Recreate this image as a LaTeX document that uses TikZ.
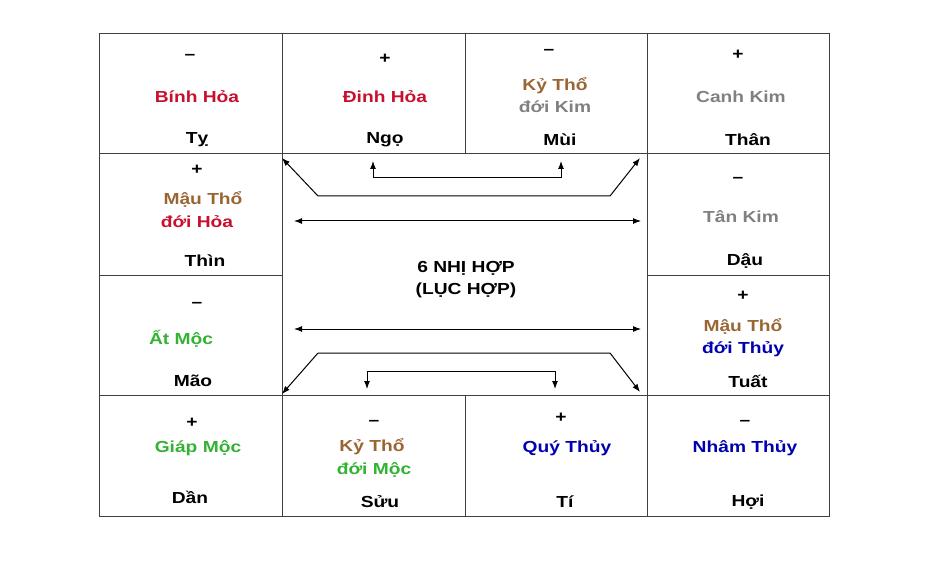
\documentclass[tikz,border=0pt]{standalone}
\usepackage{fontspec}
\setmainfont{Liberation Sans}
\usetikzlibrary{arrows.meta}
\definecolor{hoa}{HTML}{C8102E}
\definecolor{tho}{HTML}{996633}
\definecolor{kim}{HTML}{808080}
\definecolor{moc}{HTML}{33B233}
\definecolor{thuy}{HTML}{0000B0}
\begin{document}
\begin{tikzpicture}[x=1pt,y=-1pt]
  \tikzset{lbl/.style={font=\fontsize{16}{19}\selectfont\bfseries, inner sep=0pt, xscale=1.2, transform shape},
    grid/.style={draw=black!75, line width=0.9pt},
    link/.style={line width=1pt, -{Latex[length=8pt,width=6pt]}},
    both/.style={line width=1pt, {Latex[length=8pt,width=6pt]}-{Latex[length=8pt,width=6pt]}}}
  \useasboundingbox (0,0) rectangle (926,572);

  % grid
  \draw[grid] (99,33) rectangle (829,516);
  \draw[grid] (99,153) -- (829,153) (99,395) -- (829,395)
    (99,275) -- (282,275) (647,275) -- (829,275)
    (282,33) -- (282,516) (647,33) -- (647,516)
    (465,33) -- (465,153) (465,395) -- (465,516);

  % top row
  \node[lbl] (s1) at (190,57) {--};
  \node[lbl, hoa] (n1) at (197,97) {Bính Hỏa};
  \node[lbl] (b1) at (197,140) {Tỵ};
  \node[lbl] (s2) at (385,59) {+};
  \node[lbl, hoa] (n2) at (385,97) {Đinh Hỏa};
  \node[lbl] (b2) at (385,140) {Ngọ};
  \node[lbl] (s3) at (549,52) {--};
  \node[lbl, tho] (n3) at (555,86) {Kỷ Thổ};
  \node[lbl, kim] (m3) at (555,107) {đới Kim};
  \node[lbl] (b3) at (560,140) {Mùi};
  \node[lbl] (s4) at (738,55) {+};
  \node[lbl, kim] (n4) at (741,97) {Canh Kim};
  \node[lbl] (b4) at (748,140) {Thân};

  % side rows
  \node[lbl] (s5) at (197,170) {+};
  \node[lbl, tho] (n5) at (203,199) {Mậu Thổ};
  \node[lbl, hoa] (m5) at (197,222) {đới Hỏa};
  \node[lbl] (b5) at (205,261) {Thìn};
  \node[lbl] (s6) at (738,180) {--};
  \node[lbl, kim] (n6) at (741,217) {Tân Kim};
  \node[lbl] (b6) at (745,261) {Dậu};
  \node[lbl] (s7) at (197,305) {--};
  \node[lbl, moc] (n7) at (181,339) {Ất Mộc};
  \node[lbl] (b7) at (193,381) {Mão};
  \node[lbl] (s8) at (743,296) {+};
  \node[lbl, tho] (n8) at (743,326) {Mậu Thổ};
  \node[lbl, thuy] (m8) at (743,349) {đới Thủy};
  \node[lbl] (b8) at (748,381) {Tuất};

  % bottom row
  \node[lbl] (s9) at (192,423) {+};
  \node[lbl, moc] (n9) at (198,448) {Giáp Mộc};
  \node[lbl] (b9) at (190,497) {Dần};
  \node[lbl] (s10) at (374,423) {--};
  \node[lbl, tho] (n10) at (372,447) {Kỷ Thổ};
  \node[lbl, moc] (m10) at (374,470) {đới Mộc};
  \node[lbl] (b10) at (380,502) {Sửu};
  \node[lbl] (s11) at (561,418) {+};
  \node[lbl, thuy] (n11) at (567,448) {Quý Thủy};
  \node[lbl] (b11) at (565,502) {Tí};
  \node[lbl] (s12) at (745,423) {--};
  \node[lbl, thuy] (n12) at (745,448) {Nhâm Thủy};
  \node[lbl] (b12) at (748,502) {Hợi};

  % centre
  \node[lbl] (t1) at (466,268) {6 NHỊ HỢP};
  \node[lbl] (t2) at (466,290) {(LỤC HỢP)};

  % links
  \coordinate (tl) at (282,158); \coordinate (tr) at (640,158);
  \coordinate (ta) at (318,196); \coordinate (tb) at (610,196);
  \coordinate (il) at (373,161); \coordinate (ir) at (561,161);
  \coordinate (bl) at (282,394); \coordinate (br) at (640,392);
  \coordinate (ba) at (318,353); \coordinate (bb) at (610,353);
  \coordinate (jl) at (367,389); \coordinate (jr) at (555,389);
  \coordinate (h1) at (294,221); \coordinate (h2) at (641,221);
  \coordinate (h3) at (294,329); \coordinate (h4) at (641,329);
  \draw[link] (ta) -- (tl);
  \draw[link] (ta) -- (tb) -- (tr);
  \draw[link] (il |- 178,178) -- (il);
  \draw[link] (il |- 178,178) -- (ir |- 178,178) -- (ir);
  \draw[link] (ba) -- (bl);
  \draw[link] (ba) -- (bb) -- (br);
  \draw[link] (jl |- 371,371) -- (jl);
  \draw[link] (jl |- 371,371) -- (jr |- 371,371) -- (jr);
  \draw[both] (h1) -- (h2);
  \draw[both] (h3) -- (h4);
\end{tikzpicture}
\end{document}
